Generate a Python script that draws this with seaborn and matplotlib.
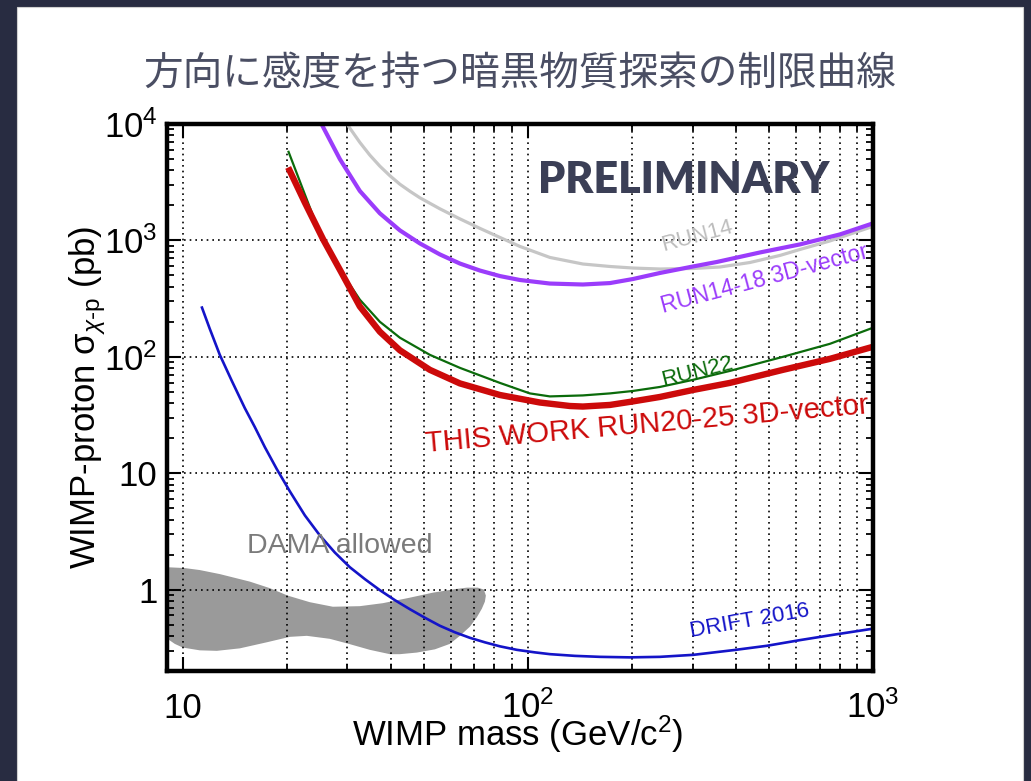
import numpy as np
import pandas as pd
import matplotlib
matplotlib.use("Agg")
import matplotlib.pyplot as plt
import seaborn as sns
from matplotlib.patches import Rectangle
from matplotlib.ticker import FixedLocator, FixedFormatter, LogLocator, NullFormatter

# ---- exclusion limits: WIMP mass (GeV/c^2) vs. cross section (pb) ----
run14_mass = [29.69, 30.14, 32.58, 34.83, 37.24, 39.81, 42.56, 45.5, 48.64, 55.58, 63.52, 72.6,
              82.96, 94.8, 115.8, 144.3, 172.9, 201.6, 241.3, 300.8, 360.2, 440.0, 537.6,
              614.3, 750.6, 1000]
run14_xsec = [10405, 9668, 6954, 5405, 4345, 3597, 3040, 2645, 2325, 1869, 1532, 1269,
              1061, 888, 714, 627, 597, 579, 568, 574, 591, 646, 743,
              836, 990, 1320]

run1418_mass = [24.45, 25.23, 28.52, 32.58, 37.24, 42.56, 48.64, 55.58, 63.52, 72.6, 82.96,
                94.8, 115.8, 144.3, 172.9, 201.6, 241.3, 300.8, 353.0, 470.5, 614.3, 802.2, 1000]
run1418_xsec = [11960, 10000, 4994, 2661, 1709, 1220, 942, 758, 633, 551, 494,
                457, 426, 418, 430, 466, 525, 597, 653, 788, 924, 1126, 1402]

run22_mass = [20.20, 21.83, 23.86, 25.79, 28.52, 32.58, 37.24, 42.56, 51.99, 63.52, 82.96,
              101.3, 115.8, 144.3, 172.9, 201.6, 241.3, 300.8, 385.0, 548.3, 750.6, 1000]
run22_xsec = [5886, 3226, 1620, 961, 562, 310, 200, 146, 104, 80.4, 59.7,
              48.5, 45.7, 46.6, 48.5, 50.9, 55.1, 63.4, 75.7, 100, 129.4, 177.8]

this_work_mass = [20.20, 22.58, 25.51, 28.84, 32.58, 37.24, 42.56, 51.99, 63.52, 82.96, 108.3,
                  132.3, 144.3, 172.9, 201.6, 241.3, 300.8, 385.0, 548.3, 750.6, 1000]
this_work_xsec = [4233, 2114, 1020, 527, 271, 164.3, 113.8, 77.3, 59.1, 47.0, 40.5,
                  37.8, 37.4, 38.6, 41.4, 45.2, 51.9, 59.7, 77.3, 96.1, 122]

drift_mass = [11.33, 11.97, 12.80, 13.87, 15.12, 16.17, 17.29, 18.73, 20.42, 22.58, 24.96,
              27.58, 30.49, 33.69, 37.24, 41.17, 45.5, 50.29, 55.58, 61.43, 67.89, 75.05,
              82.96, 92.92, 104.8, 115.8, 136.8, 161.7, 197.6, 241.3, 301.4, 393.7, 491.9,
              614.3, 767.3, 1000]
drift_xsec = [271.4, 174.3, 104.0, 62.1, 36.34, 24.92, 16.75, 10.83, 7.0, 4.344, 2.921,
              2.084, 1.557, 1.232, 0.990, 0.812, 0.679, 0.5736, 0.4894, 0.4302, 0.3857, 0.3527,
              0.3258, 0.3039, 0.2891, 0.2791, 0.2698, 0.2646, 0.2619, 0.2646, 0.2753, 0.3021, 0.3291,
              0.3684, 0.4094, 0.462]

# DAMA allowed region outline (upper edge left->right, then lower edge right->left)
dama_mass = [8.577, 9.049, 10.13, 11.2, 12.80, 15.64, 17.87, 20.15, 23.34, 27.21, 32.58,
             38.0, 45.5, 53.05, 61.43, 66.55, 71.61, 74.55, 75.55, 75.05, 73.55,
             71.14, 67.89, 63.52, 59.41, 53.76, 47.68, 42.56, 39.81, 34.83, 30.49, 26.67,
             22.88, 20.42, 17.52, 14.63, 12.55, 11.2, 10.0, 9.48, 9.049, 8.577]
dama_xsec = [1.579, 1.557, 1.532, 1.473, 1.360, 1.172, 1.030, 0.888, 0.780, 0.713, 0.721,
             0.765, 0.853, 0.942, 1.010, 1.040, 1.040, 1.000, 0.888, 0.788, 0.686,
             0.579, 0.480, 0.401, 0.342, 0.307, 0.288, 0.279, 0.279, 0.304, 0.340, 0.378,
             0.401, 0.393, 0.353, 0.313, 0.298, 0.301, 0.318, 0.342, 0.376, 0.409]

series_names = ["RUN14", "RUN14-18 3D-vector", "DRIFT 2016", "RUN22", "THIS WORK RUN20-25 3D-vector"]
series_colors = ["#c6c6c6", "#9b3cfb", "#1414c8", "#0b6b0b", "#cc0a0a"]
series_widths = [2.3, 3.0, 1.9, 1.6, 4.6]

x_major = [10, 100, 1000]
x_labels = ["10", r"$\mathregular{10^{2}}$", r"$\mathregular{10^{3}}$"]
y_major = [1, 10, 100, 1000, 10000]
y_labels = ["1", "10", r"$\mathregular{10^{2}}$", r"$\mathregular{10^{3}}$", r"$\mathregular{10^{4}}$"]

# ---- long-form table for seaborn ----
frames = []
for name, m, s in zip(series_names,
                      [run14_mass, run1418_mass, drift_mass, run22_mass, this_work_mass],
                      [run14_xsec, run1418_xsec, drift_xsec, run22_xsec, this_work_xsec]):
    frames.append(pd.DataFrame({"mass": m, "xsec": s, "series": name}))
limits = pd.concat(frames, ignore_index=True)

sns.set_theme(style="ticks")
plt.rcParams["font.family"] = ["Liberation Sans", "DejaVu Sans"]
plt.rcParams["mathtext.fontset"] = "custom"
plt.rcParams["mathtext.rm"] = "Liberation Sans"
plt.rcParams["mathtext.it"] = "Liberation Sans:italic"
plt.rcParams["mathtext.sf"] = "Liberation Sans"

W, H = 1031, 781
fig = plt.figure(figsize=(W / 100, H / 100), dpi=100, facecolor="#282c41")

# white slide card, kept underneath the axes
fig.patches.append(Rectangle((17 / W, -0.05), (1023 - 17) / W, 1.05 - 7 / H,
                             transform=fig.transFigure, facecolor="white",
                             edgecolor="#d0d0d0", lw=0.8, zorder=-5))

fig.text(520 / W, 1 - 75 / H, "方向に感度を持つ暗黒物質探索の制限曲線",
         family=["Noto Sans CJK JP", "DejaVu Sans"], fontsize=28.5,
         color="#4a4e63", ha="center", va="center")

ax = fig.add_axes([167 / W, 1 - 671 / H, (873 - 167) / W, (671 - 124) / H])
ax.set_facecolor("white")
ax.set_xscale("log")
ax.set_yscale("log")

ax.fill(dama_mass, dama_xsec, color="#9a9a9a", lw=0, zorder=0.3)

sns.lineplot(data=limits, x="mass", y="xsec", hue="series", hue_order=series_names,
             palette=dict(zip(series_names, series_colors)),
             size="series", size_order=series_names,
             sizes=dict(zip(series_names, series_widths)),
             estimator=None, legend=False, ax=ax, zorder=2)
for line in ax.get_lines():
    line.set_solid_joinstyle("round")
    line.set_solid_capstyle("butt")

ax.set_xlim(9, 1000)
ax.set_ylim(0.2, 1e4)

ax.xaxis.set_major_locator(FixedLocator(x_major))
ax.xaxis.set_major_formatter(FixedFormatter(x_labels))
ax.yaxis.set_major_locator(FixedLocator(y_major))
ax.yaxis.set_major_formatter(FixedFormatter(y_labels))
ax.xaxis.set_minor_locator(LogLocator(base=10, subs=np.arange(2, 10), numticks=20))
ax.yaxis.set_minor_locator(LogLocator(base=10, subs=np.arange(2, 10), numticks=20))
ax.xaxis.set_minor_formatter(NullFormatter())
ax.yaxis.set_minor_formatter(NullFormatter())

ax.set_axisbelow(True)
grid_style = dict(color="black", linestyle=(0, (1, 2.4)), linewidth=1.2)
ax.grid(which="major", axis="both", **grid_style)
ax.grid(which="minor", axis="x", **grid_style)

for sp in ax.spines.values():
    sp.set_linewidth(3.2)
    sp.set_color("black")
    sp.set_visible(True)

ax.tick_params(which="both", direction="in", top=True, right=True, colors="black")
ax.tick_params(which="major", length=10, width=1.5, labelsize=25)
ax.tick_params(which="minor", length=5, width=1.3)
ax.tick_params(axis="x", which="major", pad=34)
ax.tick_params(axis="y", which="major", pad=7)
for t in ax.xaxis.get_major_ticks():
    t.label1.set_verticalalignment("baseline")

ax.set_xlabel(r"WIMP mass (GeV/c$^{\mathregular{2}}$)", fontsize=25, color="black", va="baseline")
ax.xaxis.set_label_coords(0.497, -0.136)
ax.set_ylabel(r"WIMP-proton σ$_{\chi\mathregular{\text{-}p}}$ (pb)", fontsize=25,
              color="black", va="center")
ax.yaxis.set_label_coords(-0.112, 0.50)

# curve labels
label_kw = dict(ha="center", va="center", rotation_mode="anchor")
ax.text(309, 1082, "RUN14", color="#bdbdbd", fontsize=16, rotation=15, **label_kw)
ax.text(486, 461, "RUN14-18 3D-vector", color="#9b3cfb", fontsize=16.5, rotation=15, **label_kw)
ax.text(309, 74.3, "RUN22", color="#0b6b0b", fontsize=16, rotation=14, **label_kw)
ax.text(221, 25.9, "THIS WORK RUN20-25 3D-vector", color="#cc0a0a", fontsize=21,
        rotation=5, **label_kw)
ax.text(440, 0.54, "DRIFT 2016", color="#1414c8", fontsize=16, rotation=10, **label_kw)
ax.text(28.5, 2.39, "DAMA allowed", color="#7b7b7b", fontsize=20.5, rotation=0, **label_kw)

ax.text(0.732, 0.897, "PRELIMINARY", transform=ax.transAxes, family=["Lato", "DejaVu Sans"],
        fontweight="heavy", fontsize=31, color="#3b3f56", ha="center", va="center")

fig.savefig("out.png", dpi=100, facecolor=fig.get_facecolor())
